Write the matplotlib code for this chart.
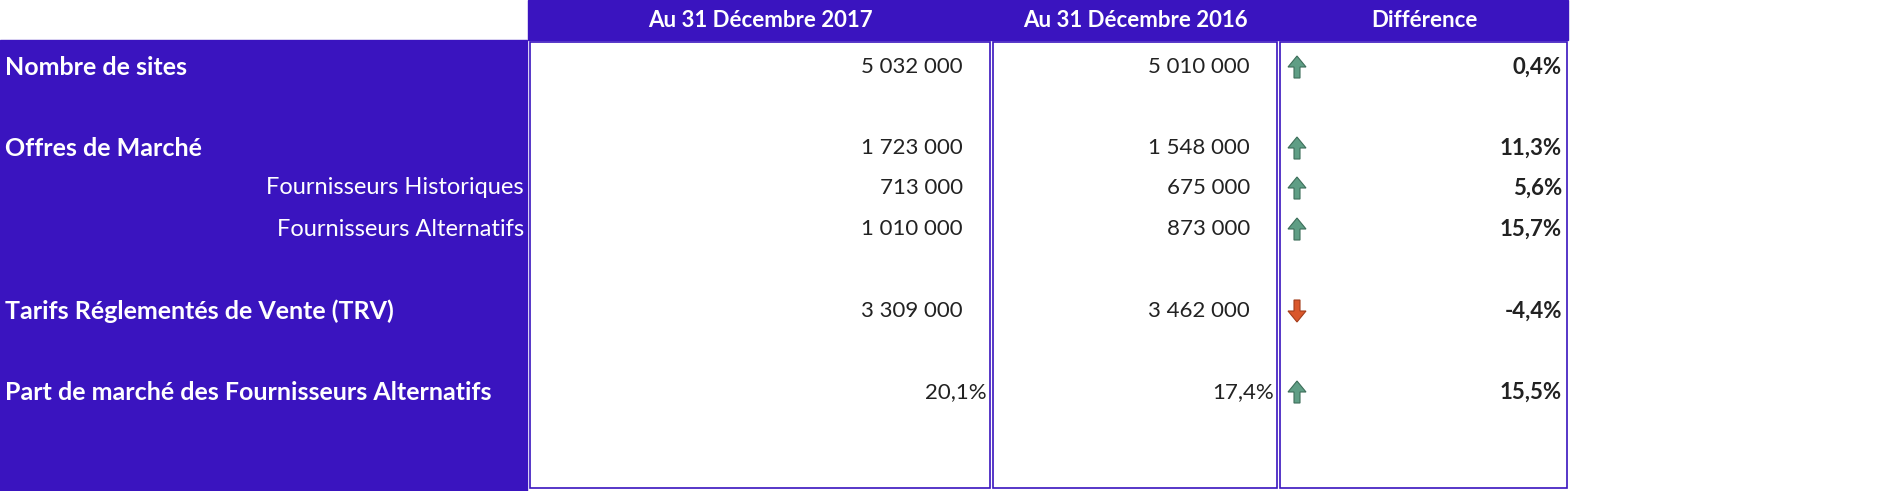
import matplotlib
matplotlib.use('Agg')
import matplotlib.pyplot as plt
from matplotlib.patches import Rectangle, FancyArrow

headers = ['Au 31 Décembre 2017', 'Au 31 Décembre 2016', 'Différence']
row_labels = ['Nombre de sites', 'Offres de Marché', 'Fournisseurs Historiques',
              'Fournisseurs Alternatifs', 'Tarifs Réglementés de Vente (TRV)',
              'Part de marché des Fournisseurs Alternatifs']
row_bold = [True, True, False, False, True, True]
values_2017 = ['5 032 000', '1 723 000', '713 000', '1 010 000', '3 309 000', '20,1%']
values_2016 = ['5 010 000', '1 548 000', '675 000', '873 000', '3 462 000', '17,4%']
differences = [0.4, 11.3, 5.6, 15.7, -4.4, 15.5]

row_y = [67, 148, 188, 229, 311, 392]
PURPLE = '#3a14bf'
FONT = 'Lato'

fig = plt.figure(figsize=(18.8, 4.91), dpi=100)
ax = fig.add_axes([0, 0, 1, 1])
ax.set_xlim(0, 1880)
ax.set_ylim(491, 0)
ax.axis('off')

# purple header and label column
ax.add_patch(Rectangle((528, 0), 1040, 40, color=PURPLE))
ax.add_patch(Rectangle((0, 40), 527, 451, color=PURPLE))
for x0, x1 in [(530, 990), (993, 1277), (1280, 1567)]:
    ax.add_patch(Rectangle((x0, 42), x1 - x0, 446, fill=False, ec=PURPLE, lw=1.2))

for cx, h in zip([760, 1135, 1424], headers):
    ax.text(cx, 20, h, color='white', ha='center', va='center',
            fontsize=16, fontweight='bold', family=FONT)

for y, lab, b, v1, v2, d in zip(row_y, row_labels, row_bold, values_2017, values_2016, differences):
    if b:
        ax.text(5, y, lab, color='white', ha='left', va='center',
                fontsize=18, fontweight='bold', family=FONT)
    else:
        ax.text(524, y, lab, color='white', ha='right', va='center',
                fontsize=17, family=FONT)
    pct = v1.endswith('%')
    ax.text(987 if pct else 963, y, v1, ha='right', va='center', fontsize=16,
            color='#222222', family=FONT)
    ax.text(1274 if pct else 1250, y, v2, ha='right', va='center', fontsize=16,
            color='#222222', family=FONT)
    ax.text(1562, y, f'{d:.1f}%'.replace('.', ','), ha='right', va='center',
            fontsize=16, fontweight='bold', color='#222222', family=FONT)
    up = d >= 0
    col = '#5f9e85' if up else '#d9572b'
    y0 = y + 11 if up else y - 11
    ax.add_patch(FancyArrow(1297, y0, 0, -22 if up else 22, width=6, head_width=18,
                            head_length=11, length_includes_head=True,
                            fc=col, ec='#3d6e5a' if up else '#a33d1c', lw=0.8))

fig.savefig('out.png', dpi=100)
